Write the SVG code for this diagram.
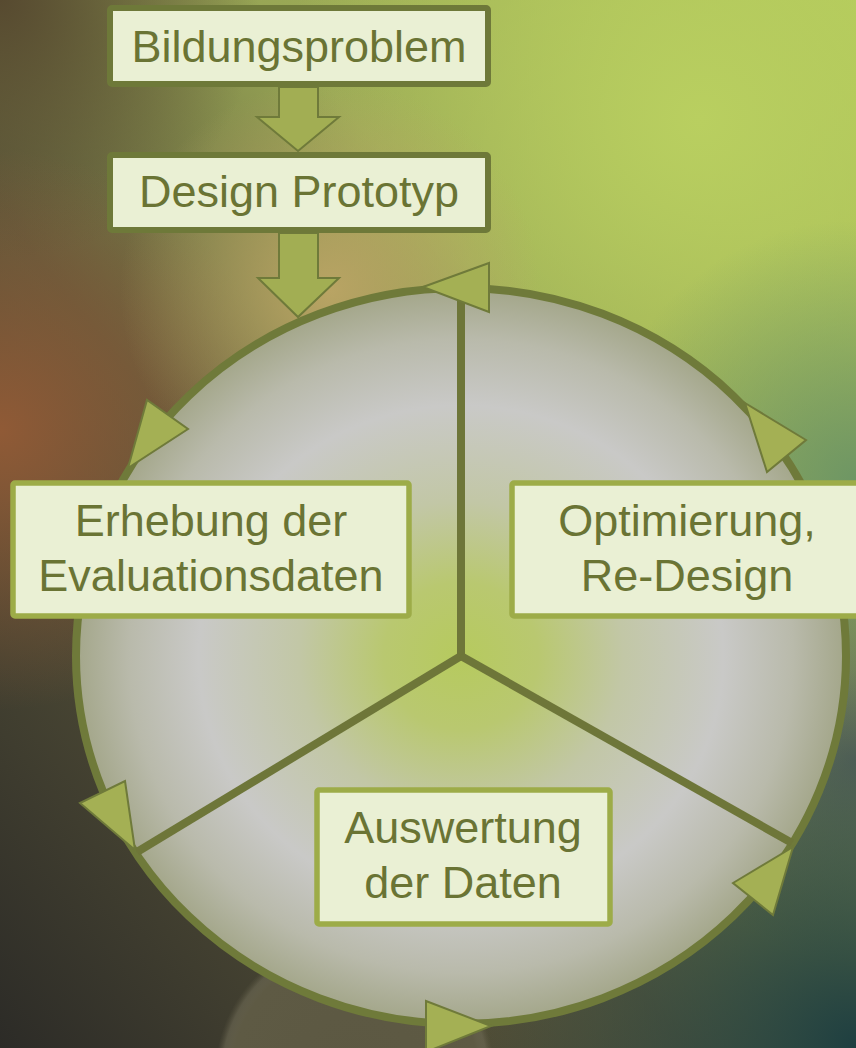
<svg xmlns="http://www.w3.org/2000/svg" width="856" height="1048" viewBox="0 0 856 1048">
  <defs>
    <linearGradient id="bgBase" x1="1" y1="0" x2="0" y2="1">
      <stop offset="0" stop-color="#b2c95a"/>
      <stop offset="0.35" stop-color="#98a655"/>
      <stop offset="0.6" stop-color="#5e5a3c"/>
      <stop offset="1" stop-color="#2c2b27"/>
    </linearGradient>
    <radialGradient id="glowLime" cx="700" cy="120" r="420" gradientUnits="userSpaceOnUse">
      <stop offset="0" stop-color="#b9cf60" stop-opacity="1"/>
      <stop offset="1" stop-color="#b9cf60" stop-opacity="0"/>
    </radialGradient>
    <radialGradient id="glowRust" cx="0" cy="430" r="280" gradientUnits="userSpaceOnUse">
      <stop offset="0" stop-color="#905a36" stop-opacity="1"/>
      <stop offset="1" stop-color="#905a36" stop-opacity="0"/>
    </radialGradient>
    <radialGradient id="glowTan" cx="330" cy="290" r="210" gradientUnits="userSpaceOnUse">
      <stop offset="0" stop-color="#b9a464" stop-opacity="1"/>
      <stop offset="1" stop-color="#b9a464" stop-opacity="0"/>
    </radialGradient>
    <radialGradient id="glowTopLeft" cx="0" cy="0" r="260" gradientUnits="userSpaceOnUse">
      <stop offset="0" stop-color="#574a30" stop-opacity="1"/>
      <stop offset="1" stop-color="#574a30" stop-opacity="0"/>
    </radialGradient>
    <radialGradient id="glowGreen" cx="856" cy="480" r="260" gradientUnits="userSpaceOnUse">
      <stop offset="0" stop-color="#6e9664" stop-opacity="1"/>
      <stop offset="1" stop-color="#6e9664" stop-opacity="0"/>
    </radialGradient>
    <radialGradient id="glowTeal" cx="856" cy="1048" r="380" gradientUnits="userSpaceOnUse">
      <stop offset="0" stop-color="#1e3f41" stop-opacity="1"/>
      <stop offset="1" stop-color="#1e3f41" stop-opacity="0"/>
    </radialGradient>
    <radialGradient id="glowGrey" cx="856" cy="760" r="200" gradientUnits="userSpaceOnUse">
      <stop offset="0" stop-color="#55605c" stop-opacity="0.9"/>
      <stop offset="1" stop-color="#55605c" stop-opacity="0"/>
    </radialGradient>
    <radialGradient id="bokeh" cx="355" cy="1075" r="140" gradientUnits="userSpaceOnUse">
      <stop offset="0" stop-color="#5c5842" stop-opacity="1"/>
      <stop offset="0.88" stop-color="#5e5a44" stop-opacity="1"/>
      <stop offset="0.95" stop-color="#6e6a55" stop-opacity="0.6"/>
      <stop offset="1" stop-color="#5e5a44" stop-opacity="0"/>
    </radialGradient>
    <radialGradient id="disc" cx="461" cy="656" r="386" gradientUnits="userSpaceOnUse" gradientTransform="translate(461 656) scale(1 0.955) translate(-461 -656)">
      <stop offset="0" stop-color="#b6ca5e"/>
      <stop offset="0.2" stop-color="#b9c870"/>
      <stop offset="0.42" stop-color="#c2c7a6"/>
      <stop offset="0.68" stop-color="#c9c9c7"/>
      <stop offset="0.86" stop-color="#b9baab"/>
      <stop offset="1" stop-color="#a3a689"/>
    </radialGradient>
    <style>
      .box-top { fill: #eaf0d4; stroke: #6e7939; stroke-width: 6; }
      .box { fill: #eaf0d4; stroke: #9dac48; stroke-width: 5.5; }
      .label { font-family: "Liberation Sans", Arial, sans-serif; font-size: 45px; fill: #6a7434; text-anchor: middle; }
      .spoke { stroke: #6e7639; stroke-width: 8; stroke-linecap: butt; fill: none; }
      .head { fill: #a4b054; stroke: #6f7a3a; stroke-width: 2; stroke-linejoin: miter; }
      .block { fill: #a2ae53; stroke: #6f7a3a; stroke-width: 2; }
    </style>
  </defs>

  <!-- background -->
  <rect x="0" y="0" width="856" height="1048" fill="url(#bgBase)"/>
  <rect x="0" y="0" width="856" height="1048" fill="url(#glowLime)"/>
  <rect x="0" y="0" width="856" height="1048" fill="url(#glowTopLeft)"/>
  <rect x="0" y="0" width="856" height="1048" fill="url(#glowRust)"/>
  <rect x="0" y="0" width="856" height="1048" fill="url(#glowTan)"/>
  <rect x="0" y="0" width="856" height="1048" fill="url(#glowGreen)"/>
  <rect x="0" y="0" width="856" height="1048" fill="url(#glowGrey)"/>
  <rect x="0" y="0" width="856" height="1048" fill="url(#glowTeal)"/>
  <circle cx="355" cy="1075" r="140" fill="url(#bokeh)"/>

  <!-- cycle disc -->
  <g id="cycle">
    <ellipse cx="461" cy="656" rx="385" ry="368" fill="url(#disc)" stroke="#6f7a3a" stroke-width="8"/>
  </g>

  <!-- spokes and flow connectors -->
  <g id="connectors">
    <line class="spoke" x1="461" y1="289" x2="461" y2="656"/>
    <line class="spoke" x1="461" y1="656" x2="137" y2="852"/>
    <line class="spoke" x1="461" y1="656" x2="792" y2="843"/>
    <polygon class="head" points="423,287 489,263 489,312"/>
    <polygon class="head" points="128,468 147,400 188,429"/>
    <polygon class="head" points="135,850 80,803 125,781"/>
    <polygon class="head" points="491,1026 426,1001 426,1052"/>
    <polygon class="head" points="793,847 733,883 773,915"/>
    <polygon class="head" points="745,403 806,440 767,472"/>
    <polygon class="block" points="279,87 318,87 318,117 339,117 298,151 257,117 279,117"/>
    <polygon class="block" points="279,233 318,233 318,278 339,278 298,317 258,278 279,278"/>
  </g>

  <g id="bildungsproblem">
    <rect class="box-top" x="110" y="8" width="378" height="76" rx="2"/>
    <text class="label" x="299" y="62">Bildungsproblem</text>
  </g>

  <g id="design-prototyp">
    <rect class="box-top" x="110" y="155" width="378" height="75" rx="2"/>
    <text class="label" x="299" y="207">Design Prototyp</text>
  </g>

  <g id="erhebung">
    <rect class="box" x="13" y="483" width="396" height="133" rx="2"/>
    <text class="label" x="211" y="536">Erhebung der</text>
    <text class="label" x="211" y="591">Evaluationsdaten</text>
  </g>

  <g id="optimierung">
    <rect class="box" x="512" y="483" width="351" height="133" rx="2"/>
    <text class="label" x="687" y="536">Optimierung,</text>
    <text class="label" x="687" y="591">Re-Design</text>
  </g>

  <g id="auswertung">
    <rect class="box" x="317" y="790" width="293" height="134" rx="2"/>
    <text class="label" x="463" y="843">Auswertung</text>
    <text class="label" x="463" y="898">der Daten</text>
  </g>
</svg>
